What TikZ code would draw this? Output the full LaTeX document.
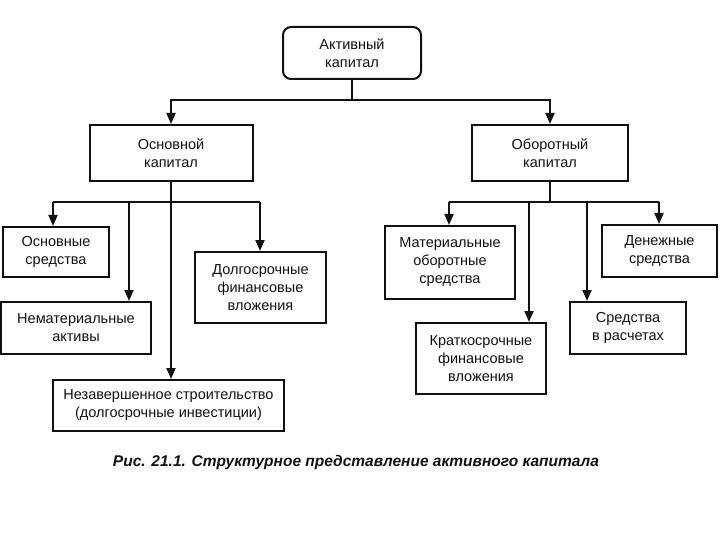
\documentclass[tikz,border=0pt]{standalone}
\usepackage{fontspec}
\setmainfont{Liberation Sans}
\usepackage{xcolor}
\definecolor{ink}{HTML}{111111}
\usepackage{tikz}
\usetikzlibrary{arrows.meta,calc}

\begin{document}
\begin{tikzpicture}[x=1pt,y=-1pt,
  box/.style={rectangle,draw=ink,line width=2pt,fill=white,text=ink,align=center,
    font=\fontsize{14.5}{18}\selectfont,inner sep=2pt},
  line/.style={ink,line width=2pt},
  arr/.style={line,-{Triangle[width=9pt,length=11pt]}}]
  \useasboundingbox (0,0) rectangle (720,540);

  % --- Корень ---
  \node[box,rounded corners=8pt,minimum width=138pt,minimum height=52pt]
        (act) at (352,53) {Активный\\капитал};

  % --- Второй уровень ---
  \node[box,minimum width=163pt,minimum height=56pt] (osn) at (171,153) {Основной\\капитал};
  \node[box,minimum width=156pt,minimum height=56pt] (obr) at (550,153) {Оборотный\\капитал};

  % --- Основной капитал: состав ---
  \node[box,minimum width=106pt,minimum height=50pt] (osr) at (56,252) {Основные\\средства};
  \node[box,minimum width=150pt,minimum height=52pt] (nem) at (76,328) {Нематериальные\\активы};
  \node[box,minimum width=231pt,minimum height=51pt] (nez) at (168.5,405.5)
        {Незавершенное строительство\\(долгосрочные инвестиции)};
  \node[box,minimum width=131pt,minimum height=71pt] (dol) at (260.5,287.5)
        {Долгосрочные\\финансовые\\вложения};

  % --- Оборотный капитал: состав ---
  \node[box,minimum width=130pt,minimum height=73pt] (mat) at (450,262.5)
        {Материальные\\оборотные\\средства};
  \node[box,minimum width=115pt,minimum height=52pt] (den) at (659.5,251) {Денежные\\средства};
  \node[box,minimum width=130pt,minimum height=71pt] (kra) at (481,358.5)
        {Краткосрочные\\финансовые\\вложения};
  \node[box,minimum width=116pt,minimum height=52pt] (sra) at (628,328) {Средства\\в расчетах};

  % --- Подпись ---
  \node[font=\fontsize{15.5}{18}\selectfont\bfseries\itshape,text=ink] (cap) at (356,462)
        {Рис. 21.1. Структурное представление активного капитала};

  % --- Связи: корень -> второй уровень ---
  \draw[line] (act.south) -- ++(0,20) coordinate (t0);
  \draw[arr] (t0) -| (osn.north);
  \draw[arr] (t0) -| (obr.north);

  % --- Шина под основным капиталом ---
  \coordinate (l1) at (53,202);
  \coordinate (l2) at (129,202);
  \coordinate (l4) at (260,202);
  \draw[line] (l1) -- (l4);
  \draw[arr] (osn.south) -- (osn.south |- nez.north);
  \foreach \c/\n in {l1/osr,l2/nem,l4/dol} \draw[arr] (\c) -- (\c |- \n.north);

  % --- Шина под оборотным капиталом ---
  \coordinate (r1) at (449,202);
  \coordinate (r2) at (529,202);
  \coordinate (r3) at (587,202);
  \coordinate (r4) at (659,202);
  \draw[line] (obr.south) -- (obr.south |- r1);
  \draw[line] (r1) -- (r4);
  \foreach \c/\n in {r1/mat,r2/kra,r3/sra,r4/den} \draw[arr] (\c) -- (\c |- \n.north);
\end{tikzpicture}
\end{document}
